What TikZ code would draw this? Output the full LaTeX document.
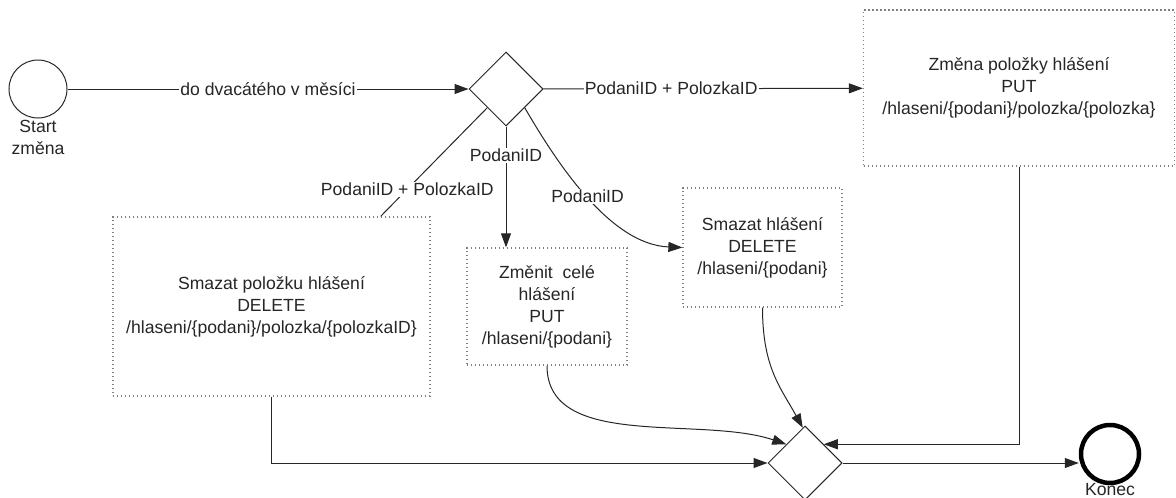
\documentclass[tikz,border=0pt]{standalone}
\usepackage{fontspec}
\setmainfont{Liberation Sans}
\usepackage{tikz}
\usetikzlibrary{positioning, shapes.geometric, arrows.meta, calc}
\tikzset{%
  txt/.style={text=black!85, font=\fontsize{17.6}{22}\selectfont},
  event/.style={draw=black!85, circle, minimum size=58pt, inner sep=0pt, line width=1pt},
  endevent/.style={event, draw=black, minimum size=58pt, line width=4.5pt},
  gate/.style={draw=black!85, diamond, minimum width=74pt, minimum height=74pt, inner sep=0pt, line width=1pt},
  task/.style={
    rectangle,
    draw=gray,
    line width=1.3pt,
    dash pattern=on 1.3pt off 2.7pt,
    align=center,
    txt
  },
  conn/.style={line width=1pt, draw=black!85},
  flow/.style={conn, -{Triangle[length=14pt,width=10pt]}},
  flowtext/.style={fill=white, inner sep=1pt, txt}
}

\begin{document}
\begin{tikzpicture}[x=1pt, y=-1pt]
  \useasboundingbox (0,0) rectangle (1176,498);
  % events and gateways
  \node[event] (start) at (38,89) {};
  \node[txt, align=center, below=2pt of start, inner sep=0pt] (startlbl) {Start\\změna};
  \node[gate] (gw1) at (506,89) {};
  \node[gate] (gw2) at (805,463) {};
  \node[endevent] (konec) at (1110,454) {};
  \node[txt, below=-2pt of konec, inner sep=0pt] (koneclbl) {Konec};
  % tasks
  \node[task, minimum width=311pt, minimum height=156pt] (zmena) at (1019,88)
    {Změna položky hlášení\\PUT\\/hlaseni/\{podani\}/polozka/\{polozka\}};
  \node[task, minimum width=317pt, minimum height=179pt] (smazpol) at (271.5,306.5)
    {Smazat položku hlášení\\DELETE\\/hlaseni/\{podani\}/polozka/\{polozkaID\}};
  \node[task, minimum width=160pt, minimum height=117pt] (zmenit) at (547,306.5)
    {Změnit~ celé\\hlášení\\PUT\\/hlaseni/\{podani\}};
  \node[task, minimum width=159pt, minimum height=119pt] (smaz) at (762.5,247.5)
    {Smazat hlášení\\DELETE\\/hlaseni/\{podani\}};
  % flows
  \draw[flow] (start) -- node[flowtext, pos=0.5] {do dvacátého v měsíci} (gw1);
  \draw[flow] (gw1) -- node[flowtext, pos=0.4] {PodaniID + PolozkaID} (zmena);
  \draw[conn] (gw1.south west) -- node[flowtext, pos=0.75] {PodaniID + PolozkaID} ($(smazpol.north east)+(-50,0)$);
  \draw[flow] (gw1.south) -- node[flowtext, pos=0.24] {PodaniID} (gw1.south |- zmenit.north);
  \draw[flow] (gw1.south east) .. controls +(30.5,52.5) and +(-73,-3) .. node[flowtext] {PodaniID} (smaz.west);
  \draw[flow] (zmena.south) |- (gw2.north east);
  \draw[flow] (smazpol.south) |- (gw2.west);
  \draw[flow] (zmenit.south) .. controls +(0,85) and +(-86,-29) .. (gw2.north west);
  \draw[flow] (smaz.south) .. controls +(0,60) and +(-22,-40) .. ($(gw2.north)!0.06!(gw2.west)$);
  \draw[flow] (gw2.east) -- (gw2.east -| konec.west);
\end{tikzpicture}
\end{document}
